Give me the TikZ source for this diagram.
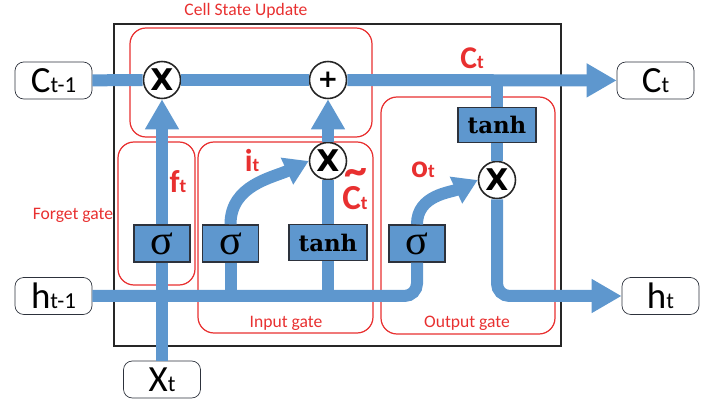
\documentclass[tikz,border=0pt]{standalone}
\usepackage{fontspec}
\setmainfont{Carlito}
\newfontfamily\sigmafont{Liberation Serif}
\newfontfamily\tanhfont{DejaVu Serif}
\newfontfamily\opfont{DejaVu Sans}
\usetikzlibrary{arrows.meta}
\definecolor{lstmblue}{RGB}{94,151,206}
\definecolor{gatered}{RGB}{232,48,48}
\definecolor{boxedge}{RGB}{45,50,60}
\newcommand{\bigsym}{\fontsize{21}{21}\selectfont}
\newcommand{\smallsub}{\fontsize{13}{13}\selectfont}
\newcommand{\redsym}{\fontsize{18}{18}\selectfont\bfseries}
\newcommand{\redsub}{\fontsize{11}{11}\selectfont\bfseries}
\newcommand{\tildeover}{\makebox[0pt][l]{\hspace{1pt}\raisebox{13.5pt}{\fontsize{26}{26}\selectfont\textasciitilde}}}

\begin{document}
\begin{tikzpicture}[
        io/.style={draw=boxedge, rounded corners=5pt, fill=white, minimum width=1.54cm, minimum height=0.74cm, inner sep=0pt},
        op/.style={circle, draw=black!85, line width=0.9pt, fill=white, minimum size=0.74cm, inner sep=0pt, font=\opfont\bfseries\fontsize{17}{17}\selectfont},
        act/.style={draw=boxedge, line width=0.8pt, fill=lstmblue, minimum height=0.74cm, inner sep=0pt},
        sig/.style={act, minimum width=1.12cm, font=\sigmafont\fontsize{24}{24}\selectfont},
        tnh/.style={act, minimum width=1.56cm, minimum height=0.71cm, font=\tanhfont\bfseries\fontsize{13}{13}\selectfont},
        flow/.style={draw=lstmblue, line width=0.24cm},
        flowarrow/.style={flow, -{Triangle[width=0.64cm, length=0.6cm]}},
        bendarrow/.style={flow, -{Triangle[width=0.56cm, length=0.48cm]}},
        gatebox/.style={draw=gatered, line width=0.7pt, rounded corners=0.32cm},
        gatetext/.style={text=gatered, font=\fontsize{10}{10}\selectfont},
        sym/.style={text=gatered, inner sep=0pt}
    ]
        \useasboundingbox (0,0) rectangle (14.28,-8.06);

        % Cell frame and gate regions
        \draw[line width=1.2pt, black!85] (2.28,-0.48) rectangle (11.22,-6.92);
        \draw[gatebox] (2.60,-0.56) rectangle (7.44,-2.74);
        \draw[gatebox] (2.36,-2.84) rectangle (3.90,-5.70);
        \draw[gatebox] (3.96,-2.84) rectangle (7.46,-6.66);
        \draw[gatebox] (7.62,-1.94) rectangle (11.10,-6.68);
        \node[gatetext] (celltitle) at (4.92,-0.22) {Cell State Update};
        \node[gatetext] (forgettitle) at (1.46,-4.30) {Forget gate};
        \node[gatetext] (inputtitle) at (5.72,-6.46) {Input gate};
        \node[gatetext] (outputtitle) at (9.34,-6.46) {Output gate};

        % Inputs and outputs
        \node[io] (cprev) at (1.07,-1.61) {\bigsym C\smallsub t-1};
        \node[io] (cnext) at (13.11,-1.61) {\bigsym C\smallsub t};
        \node[io] (hprev) at (1.07,-5.92) {\bigsym h\smallsub t-1};
        \node[io] (hnext) at (13.21,-5.92) {\bigsym h\smallsub t};
        \node[io] (xt) at (3.24,-7.59) {\bigsym X\smallsub t};

        % Pointwise operations and layers
        \node[op] (fx) at (3.24,-1.60) {X};
        \node[op, font=\opfont\bfseries\fontsize{14}{14}\selectfont] (plus) at (6.56,-1.60) {+};
        \node[op] (ix) at (6.56,-3.22) {X};
        \node[op] (ox) at (9.94,-3.60) {X};
        \node[sig] (fsig) at (3.24,-4.87) {σ};
        \node[sig] (isig) at (4.61,-4.87) {σ};
        \node[tnh] (itanh) at (6.56,-4.85) {tanh};
        \node[sig] (osig) at (8.34,-4.87) {σ};
        \node[tnh] (otanh) at (9.94,-2.50) {tanh};

        % Cell state line
        \draw[flow] (cprev) -- (fx);
        \draw[flow] (fx) -- (plus);
        \draw[flowarrow] (plus) -- (cnext);

        % Hidden state and input
        \draw[flow, rounded corners=0.25cm] (hprev.east) -- (osig.south |- hprev.east) -- (osig.south);
        \draw[flow] (xt) -- (fsig);
        \draw[flowarrow] (fsig) -- (fx);
        \draw[flow] (isig.south |- hprev.east) -- (isig.south);
        \draw[flow] (itanh.south |- hprev.east) -- (itanh.south);
        \draw[bendarrow] (isig.north) to[out=90, in=205] (ix.west);
        \draw[flow] (itanh) -- (ix);
        \draw[flowarrow] (ix) -- (plus);

        % Output
        \draw[flow] (otanh.north |- fx) -- (otanh.north);
        \draw[flow] (otanh) -- (ox);
        \draw[bendarrow] (osig.north) to[out=90, in=205] (ox.west);
        \draw[flowarrow, rounded corners=0.25cm] (ox.south) |- (hnext.west);

        % Labels
        \node[sym] (ctlabel) at (9.44,-1.16) {\redsym C\redsub t};
        \node[sym] (ftlabel) at (3.56,-3.64) {\redsym f\redsub t};
        \node[sym] (itlabel) at (5.04,-3.20) {\redsym i\redsub t};
        \node[sym] (cclabel) at (7.10,-3.78) {\fontsize{20}{20}\selectfont\bfseries\tildeover C\redsub t};
        \node[sym] (otlabel) at (8.46,-3.40) {\redsym o\redsub t};
    \end{tikzpicture}
\end{document}
